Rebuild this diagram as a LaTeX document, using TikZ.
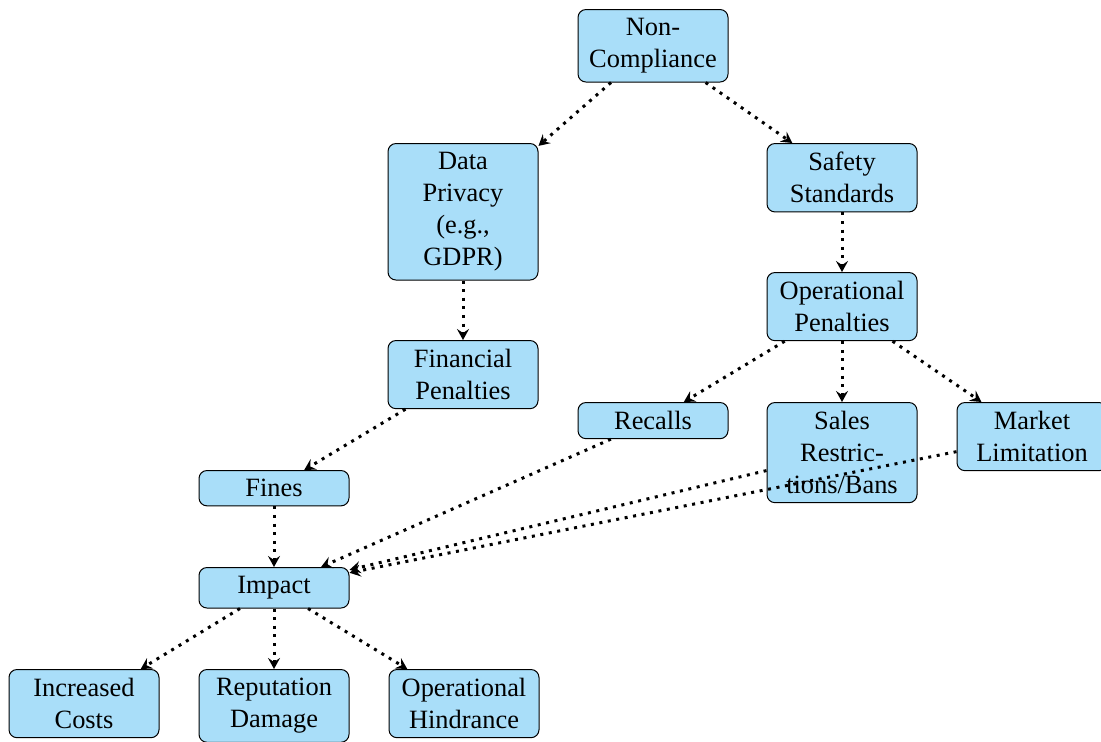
\documentclass[tikz,border=0pt]{standalone}
\usepackage{fontspec}
\setmainfont{Liberation Serif}
\usetikzlibrary{arrows.meta}
\definecolor{boxfill}{RGB}{169,222,249}
\tikzset{
  box/.style={draw=black, line width=0.5pt, fill=boxfill, rounded corners=4pt,
    anchor=north, align=center, minimum width=75pt, inner xsep=4pt, inner ysep=4.4pt,
    font=\fontsize{13.2pt}{16pt}\selectfont},
  link/.style={line width=1.5pt, dash pattern=on 1.5pt off 2.8pt,
    -{Stealth[length=5.5pt, width=6pt, inset=2pt]}}
}
\begin{document}
\begin{tikzpicture}[x=0.5pt, y=-0.5pt]
  \useasboundingbox (0,0) rectangle (1101,741);
  % top levels
  \node[box] (nc) at (653,9)   {Non-\\Compliance};
  \node[box] (dp) at (463,143) {Data\\Privacy\\(e.g.,\\GDPR)};
  \node[box] (ss) at (842,143) {Safety\\Standards};
  \node[box] (op) at (842,272) {Operational\\Penalties};
  \node[box] (fp) at (463,340) {Financial\\Penalties};
  % penalties
  \node[box] (rc) at (653,402) {Recalls};
  \node[box] (sr) at (842,402) {Sales\\Restric-\\tions/Bans};
  \node[box] (ml) at (1032,402) {Market\\Limitation};
  \node[box] (fi) at (274,470) {Fines};
  % impact
  \node[box] (im) at (274,567) {Impact};
  \node[box] (ic) at (84,669)  {Increased\\Costs};
  \node[box] (rd) at (274,669) {Reputation\\Damage};
  \node[box] (oh) at (464,669) {Operational\\Hindrance};
  % connectors
  \draw[link] (nc) -- (dp);
  \draw[link] (nc) -- (ss);
  \draw[link] (dp) -- (fp);
  \draw[link] (ss) -- (op);
  \draw[link] (fp) -- (fi);
  \draw[link] (op) -- (rc);
  \draw[link] (op) -- (sr);
  \draw[link] (op) -- (ml);
  \draw[link] (fi) -- (im);
  \draw[link] (rc) -- (im);
  \draw[link] (sr) -- (im);
  \draw[link] (ml) -- (im);
  \draw[link] (im) -- (ic);
  \draw[link] (im) -- (rd);
  \draw[link] (im) -- (oh);
\end{tikzpicture}
\end{document}
